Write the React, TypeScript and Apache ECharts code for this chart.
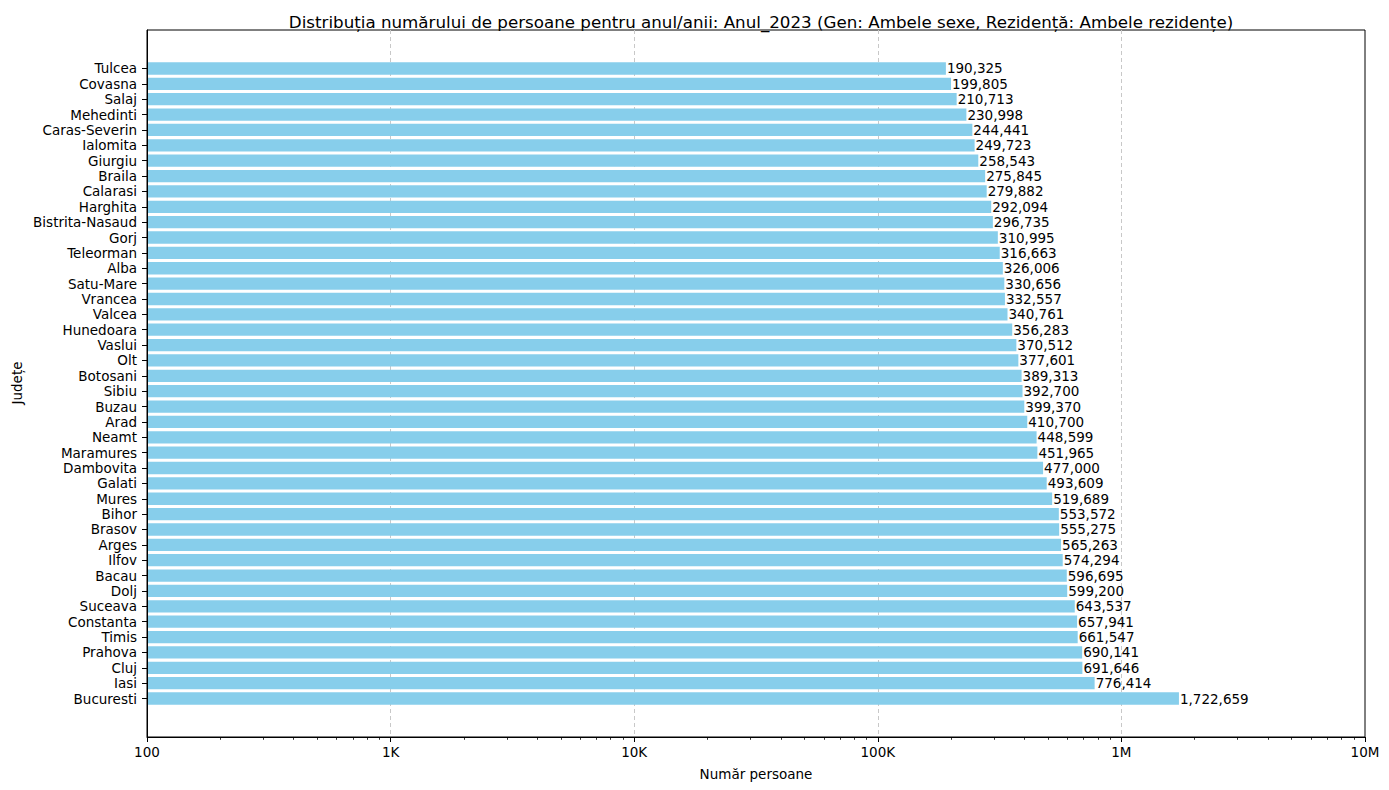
import React, { useEffect, useRef } from 'react';
import * as echarts from 'echarts';

const judete = [
  'Tulcea', 'Covasna', 'Salaj', 'Mehedinti', 'Caras-Severin', 'Ialomita', 'Giurgiu',
  'Braila', 'Calarasi', 'Harghita', 'Bistrita-Nasaud', 'Gorj', 'Teleorman', 'Alba',
  'Satu-Mare', 'Vrancea', 'Valcea', 'Hunedoara', 'Vaslui', 'Olt', 'Botosani', 'Sibiu',
  'Buzau', 'Arad', 'Neamt', 'Maramures', 'Dambovita', 'Galati', 'Mures', 'Bihor',
  'Brasov', 'Arges', 'Ilfov', 'Bacau', 'Dolj', 'Suceava', 'Constanta', 'Timis',
  'Prahova', 'Cluj', 'Iasi', 'Bucuresti',
];

const persoane = [
  190325, 199805, 210713, 230998, 244441, 249723, 258543,
  275845, 279882, 292094, 296735, 310995, 316663, 326006,
  330656, 332557, 340761, 356283, 370512, 377601, 389313, 392700,
  399370, 410700, 448599, 451965, 477000, 493609, 519689, 553572,
  555275, 565263, 574294, 596695, 599200, 643537, 657941, 661547,
  690141, 691646, 776414, 1722659,
];

// minor ticks of the log axis (2..9 x each decade)
const minorTicks: number[] = [];
[100, 1000, 10000, 100000, 1000000].forEach((d) => {
  [2, 3, 4, 5, 6, 7, 8, 9].forEach((m) => minorTicks.push(m * d));
});

const FONT = 'DejaVu Sans';

const fmtAxis = (v: number) => {
  const r = Math.round(v);
  if (r >= 1e6) return Math.round(r / 1e6) + 'M';
  if (r >= 1e3) return Math.round(r / 1e3) + 'K';
  return String(r);
};

const App: React.FC = () => {
  const chartRef = useRef<HTMLDivElement>(null);

  useEffect(() => {
    if (!chartRef.current) return;
    const chart = echarts.init(chartRef.current, undefined, { renderer: 'svg' });

    chart.setOption({
      animation: false,
      textStyle: { fontFamily: FONT },
      title: {
        text: 'Distribuția numărului de persoane pentru anul/anii: Anul_2023 (Gen: Ambele sexe, Rezidență: Ambele rezidențe)',
        left: 756,
        textAlign: 'center',
        top: 8,
        textStyle: { fontFamily: FONT, fontSize: 16.7, fontWeight: 'normal', color: '#000' },
      },
      grid: [
        // frame
        {
          left: 147, right: 24, top: 30, bottom: 53,
          show: true, borderColor: '#000', borderWidth: 1, backgroundColor: 'transparent',
        },
        // bars
        { left: 147, right: 24, top: 60.8, bottom: 83.8 },
      ],
      xAxis: [
        {
          gridIndex: 0,
          type: 'log',
          logBase: 10,
          min: 100,
          max: 10000000,
          name: 'Număr persoane',
          nameLocation: 'middle',
          nameGap: 30,
          nameTextStyle: { fontFamily: FONT, fontSize: 13.5, color: '#000' },
          axisLine: { show: true, lineStyle: { color: '#000', width: 1 } },
          axisTick: { show: true, length: 5, lineStyle: { color: '#000' } },
          axisLabel: { fontFamily: FONT, fontSize: 13.5, color: '#000', margin: 8, formatter: fmtAxis },
          splitLine: {
            show: true,
            showMinLine: false,
            showMaxLine: false,
            lineStyle: { color: '#c8c8c8', type: [4, 3], width: 1 },
          },
          minorTick: { show: false },
        },
        {
          gridIndex: 0,
          type: 'log',
          logBase: 10,
          min: 100,
          max: 10000000,
          position: 'bottom',
          axisLine: { show: false },
          axisTick: { show: true, length: 2.8, customValues: minorTicks, lineStyle: { color: '#000', width: 0.8 } },
          axisLabel: { show: false },
          splitLine: { show: false },
        },
        {
          gridIndex: 1,
          type: 'log',
          logBase: 10,
          min: 100,
          max: 10000000,
          show: false,
        },
      ],
      yAxis: [
        {
          gridIndex: 0,
          type: 'value',
          min: 0,
          max: 1,
          axisLine: { show: true, lineStyle: { color: '#000', width: 1 } },
          axisTick: { show: false },
          axisLabel: { show: false },
          splitLine: { show: false },
          z: 5,
        },
        {
          gridIndex: 1,
          type: 'category',
          inverse: true,
          data: judete,
          axisLine: { show: false },
          axisTick: { show: true, alignWithLabel: true, interval: 0, length: 5, lineStyle: { color: '#000' } },
          axisLabel: { fontFamily: FONT, fontSize: 13.5, color: '#000', margin: 10, interval: 0 },
          splitLine: { show: false },
        },
      ],
      graphic: [
        {
          type: 'text',
          x: 17,
          y: 383,
          rotation: Math.PI / 2,
          style: {
            text: 'Județe',
            font: `13.5px "${FONT}"`,
            fill: '#000',
            textAlign: 'center',
            textVerticalAlign: 'middle',
          },
        },
      ],
      series: [
        {
          type: 'bar',
          xAxisIndex: 2,
          yAxisIndex: 1,
          data: persoane,
          barWidth: '80%',
          itemStyle: { color: '#87ceeb' },
          clip: true,
          label: {
            show: true,
            position: 'right',
            distance: 1,
            fontFamily: FONT,
            fontSize: 13.5,
            color: '#000',
            formatter: (p: any) => Number(p.value).toLocaleString('en-US'),
          },
        },
      ],
    });

    return () => {
      chart.dispose();
    };
  }, []);

  return (
    <div
      ref={chartRef}
      style={{ position: 'fixed', left: 0, top: 0, width: '1389px', height: '790px', background: '#fff' }}
    />
  );
};

export default App;
